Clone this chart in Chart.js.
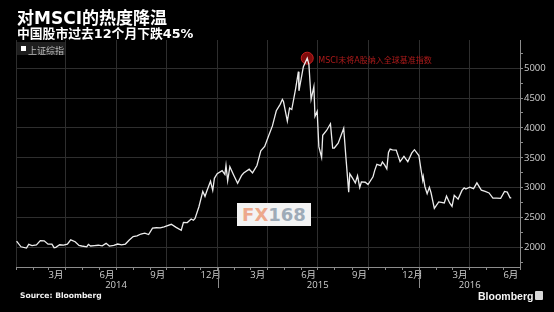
<!DOCTYPE html>
<html><head><meta charset="utf-8">
<script src="https://cdn.jsdelivr.net/npm/chart.js@4.4.1/dist/chart.umd.min.js"></script>
<style>
html,body{margin:0;padding:0;background:#000;}
#wrap{position:relative;width:554px;height:312px;overflow:hidden;background:#000;}
canvas{position:absolute;left:0;top:0;}
.ov{position:absolute;white-space:nowrap;line-height:1;}
#title{left:17px;top:4px;color:#fff;font:bold 17px 'DejaVu Sans','Noto Sans CJK SC',sans-serif;}
#subtitle{left:17px;top:23px;color:#fff;font:bold 12.8px 'DejaVu Sans','Noto Sans CJK SC',sans-serif;}
#legend{left:17px;top:42px;width:48px;height:13px;background:#1e1e1e;}
#legend .sw{position:absolute;left:4px;top:4px;width:5px;height:5px;background:#fff;}
#legend .tx{position:absolute;left:11px;top:2px;color:#bdbdbd;font:9px 'Noto Sans CJK SC',sans-serif;}
#ann{color:#ad1a1a;font:8px 'DejaVu Sans','Noto Sans CJK SC',sans-serif;}
#wm{left:237px;top:203px;width:74px;height:23px;background:#f3f3f3;text-align:center;font:bold 18px 'DejaVu Sans',sans-serif;line-height:23px;}
#wm .a{color:#eda98c;}#wm .b{color:#9eabb8;}
#src{left:20px;top:291px;color:#f0f0f0;font:bold 7.6px 'DejaVu Sans',sans-serif;}
#bbg{left:478px;top:290px;color:#f4f4f4;font:bold 10.5px 'Liberation Sans',sans-serif;}
#icon{left:535px;top:291px;width:8px;height:9px;background:#d8d8d8;border-radius:1px;}
</style></head><body>
<div id="wrap">
<canvas id="c" width="554" height="312"></canvas>
<div class="ov" id="title">对MSCI的热度降温</div>
<div class="ov" id="subtitle">中国股市过去12个月下跌45%</div>
<div class="ov" id="legend"><div class="sw"></div><div class="tx" id="legtx"></div></div>
<div class="ov" id="ann"></div>
<div class="ov" id="wm"><span class="a">FX</span><span class="b">168</span></div>
<div class="ov" id="src">Source: Bloomberg</div>
<div class="ov" id="bbg">Bloomberg</div>
<div class="ov" id="icon"></div>
</div>
<script>
// ---- data ----
const seriesName = '上证综指';
const dates = [
'2014-01-02','2014-01-10','2014-01-20','2014-01-24','2014-01-30','2014-02-07','2014-02-14','2014-02-21','2014-02-28',
'2014-03-07','2014-03-11','2014-03-14','2014-03-21','2014-03-28','2014-04-04','2014-04-10','2014-04-18','2014-04-25','2014-04-30',
'2014-05-09','2014-05-12','2014-05-16','2014-05-23','2014-05-30','2014-06-06','2014-06-13','2014-06-19','2014-06-27',
'2014-07-04','2014-07-11','2014-07-18','2014-07-25','2014-08-01','2014-08-08','2014-08-15','2014-08-22','2014-08-29',
'2014-09-05','2014-09-12','2014-09-19','2014-09-26','2014-10-09','2014-10-17','2014-10-27','2014-10-31',
'2014-11-07','2014-11-14','2014-11-18','2014-11-21','2014-11-28','2014-12-05','2014-12-09','2014-12-12','2014-12-19','2014-12-23','2014-12-26','2014-12-31',
'2015-01-09','2015-01-14','2015-01-16','2015-01-19','2015-01-23','2015-01-30','2015-02-06','2015-02-13','2015-02-17','2015-02-27',
'2015-03-05','2015-03-13','2015-03-20','2015-03-27','2015-04-03','2015-04-10','2015-04-17','2015-04-24','2015-04-28','2015-04-30',
'2015-05-07','2015-05-11','2015-05-15','2015-05-22','2015-05-27','2015-05-28','2015-06-05','2015-06-12','2015-06-15','2015-06-19','2015-06-24','2015-06-26','2015-06-30',
'2015-07-03','2015-07-08','2015-07-10','2015-07-17','2015-07-24','2015-07-28','2015-07-31','2015-08-07','2015-08-17','2015-08-21','2015-08-26','2015-08-28',
'2015-09-02','2015-09-07','2015-09-11','2015-09-15','2015-09-18','2015-09-25','2015-09-30','2015-10-09','2015-10-12','2015-10-16','2015-10-23','2015-10-26','2015-10-30',
'2015-11-03','2015-11-06','2015-11-09','2015-11-13','2015-11-20','2015-11-27','2015-12-04','2015-12-11','2015-12-18','2015-12-23','2015-12-31',
'2016-01-04','2016-01-07','2016-01-08','2016-01-11','2016-01-15','2016-01-19','2016-01-22','2016-01-28','2016-02-05','2016-02-15','2016-02-19','2016-02-25','2016-02-29',
'2016-03-04','2016-03-11','2016-03-18','2016-03-22','2016-03-25','2016-04-01','2016-04-08','2016-04-14','2016-04-22','2016-04-29',
'2016-05-06','2016-05-13','2016-05-20','2016-05-27','2016-06-03','2016-06-08','2016-06-13','2016-06-14'
];
const closes = [
2109,2013,1992,2054,2033,2044,2115,2113,2056,
2058,1998,2004,2047,2041,2058,2130,2098,2036,2026,
2011,2053,2026,2034,2039,2029,2070,2024,2036,
2059,2046,2059,2126,2185,2194,2226,2240,2217,
2326,2331,2329,2347,2389,2341,2290,2420,
2418,2478,2457,2487,2683,2938,2856,2938,3108,2957,3158,3235,
3285,3222,3376,3116,3351,3210,3076,3203,3247,3310,
3248,3372,3617,3691,3864,4034,4287,4394,4476,4441,
4112,4333,4308,4657,4941,4620,5023,5166,5062,4478,4691,4192,4277,
3687,3507,3878,3957,4070,3663,3664,3744,3993,3508,2927,3232,
3160,3080,3200,3005,3097,3092,3053,3183,3287,3391,3369,3429,3383,
3316,3590,3646,3632,3630,3436,3525,3435,3578,3636,3539,
3297,3125,3186,3017,2900,3007,2916,2656,2763,2746,2860,2741,2688,
2874,2810,2955,2999,2979,3009,2985,3082,2959,2938,
2913,2827,2825,2822,2938,2927,2833,2842
];
// annotation
const annotationDate = '2015-06-12';
const annotationValue = 5166;
const annotationText = 'MSCI未将A股纳入全球基准指数';
// axis extents / ticks
const axisStart = '2014-01-01', axisEnd = '2016-07-01';
const monthLabelDates = ['2014-03-01','2014-06-01','2014-09-01','2014-12-01','2015-03-01','2015-06-01','2015-09-01','2015-12-01','2016-03-01','2016-06-01'];
const monthLabelTexts = ['3月','6月','9月','12月','3月','6月','9月','12月','3月','6月'];
const gridDates = ['2014-01-01','2014-04-01','2014-07-01','2014-10-01','2015-01-01','2015-04-01','2015-07-01','2015-10-01','2016-01-01','2016-04-01','2016-07-01'];
const yearLabelDates = ['2014-07-01','2015-07-01','2016-04-01'];
const yearLabelTexts = ['2014','2015','2016'];
const yearSeparatorDates = ['2015-01-01','2016-01-01'];
const yMin = 1675, yMax = 5470;
const yMajorTicks = [2000,2500,3000,3500,4000,4500,5000];
const yMinorTicks = [1750,2250,2750,3250,3750,4250,4750,5250];

// ---- helpers ----
const ORIGIN = Date.UTC(2014,0,1);
function dayOf(s){const p=s.split('-').map(Number);return (Date.UTC(p[0],p[1]-1,p[2])-ORIGIN)/86400000;}
const xMin = dayOf(axisStart), xMax = dayOf(axisEnd);
const monthTicks=[];
for(let y=2014;y<=2016;y++)for(let m=1;m<=12;m++){const d=dayOf(y+'-'+String(m).padStart(2,'0')+'-01');if(d<=xMax)monthTicks.push(d);}
const monthLabelMap=new Map(monthLabelDates.map((s,i)=>[dayOf(s),monthLabelTexts[i]]));
const gridSet=new Set(gridDates.map(dayOf));
const yearMap=new Map(yearLabelDates.map((s,i)=>[dayOf(s),yearLabelTexts[i]]));
const sepDays=yearSeparatorDates.map(dayOf);
const yMajorSet=new Set(yMajorTicks);
const yAll=yMajorTicks.concat(yMinorTicks).sort((a,b)=>a-b);
const points=dates.map((s,i)=>({x:dayOf(s),y:closes[i]}));

const GRID='#2e2e2e', AXIS='#8c8c8c', TXT='#cfcfcf';
const FONT="'Open Sans','Noto Sans CJK SC',sans-serif";

document.getElementById('legtx').textContent=seriesName;
document.getElementById('ann').textContent=annotationText;

const sepPlugin={id:'sep',afterDraw(chart){const xs=chart.scales.x,ctx=chart.ctx,b=chart.chartArea.bottom;ctx.save();ctx.strokeStyle=AXIS;ctx.lineWidth=1;sepDays.forEach(d=>{const px=Math.round(xs.getPixelForValue(d))+0.5;ctx.beginPath();ctx.moveTo(px,b);ctx.lineTo(px,b+21);ctx.stroke();});ctx.restore();}};

const chart=new Chart(document.getElementById('c'),{
  type:'line',
  data:{datasets:[
    {label:seriesName,data:points,xAxisID:'x',yAxisID:'y',borderColor:'#ececec',borderWidth:1.3,pointRadius:0,tension:0,order:0},
    {label:'ann',data:[{x:dayOf(annotationDate),y:annotationValue}],xAxisID:'x',yAxisID:'y',showLine:false,pointRadius:6,pointBackgroundColor:'rgba(135,12,12,0.95)',pointBorderColor:'#c42020',pointBorderWidth:1,order:1}
  ]},
  options:{
    responsive:false,animation:false,devicePixelRatio:1,
    layout:{padding:{left:16,top:40,right:0,bottom:20}},
    plugins:{legend:{display:false},tooltip:{enabled:false},title:{display:false}},
    scales:{
      x:{type:'linear',position:'bottom',min:xMin,max:xMax,
        afterBuildTicks:s=>{s.ticks=monthTicks.map(v=>({value:v}));},
        grid:{color:c=>(c.tick&&gridSet.has(c.tick.value))?GRID:'transparent',tickColor:AXIS,tickLength:3,lineWidth:1},
        border:{color:AXIS,width:1},
        ticks:{autoSkip:false,maxRotation:0,minRotation:0,align:'start',padding:0,color:TXT,font:{family:FONT,size:9.5},callback:v=>monthLabelMap.get(v)||''},
        afterFit:s=>{s.height=13;}},
      x2:{type:'linear',position:'bottom',min:xMin,max:xMax,
        afterBuildTicks:s=>{s.ticks=yearLabelDates.map(d=>({value:dayOf(d)}));},
        grid:{display:false,drawTicks:false},border:{display:false},
        ticks:{autoSkip:false,maxRotation:0,minRotation:0,padding:0,color:TXT,font:{family:FONT,size:9.5},callback:v=>yearMap.get(v)||''},
        afterFit:s=>{s.height=12;}},
      y:{type:'linear',position:'right',min:yMin,max:yMax,
        afterBuildTicks:s=>{s.ticks=yAll.map(v=>({value:v}));},
        grid:{color:c=>(c.tick&&yMajorSet.has(c.tick.value))?GRID:'transparent',tickColor:AXIS,tickLength:3,lineWidth:1},
        border:{color:AXIS,width:1},
        ticks:{autoSkip:false,padding:1,color:TXT,font:{family:FONT,size:9.5},callback:v=>yMajorSet.has(v)?String(v):''},
        afterFit:s=>{s.width=34;}}
    }
  },
  plugins:[sepPlugin]
});
const ax=chart.scales.x.getPixelForValue(dayOf(annotationDate));
const ay=chart.scales.y.getPixelForValue(annotationValue);
const annEl=document.getElementById('ann');
annEl.style.left=(ax+11)+'px';annEl.style.top=(ay-4)+'px';
</script>
</body></html>
